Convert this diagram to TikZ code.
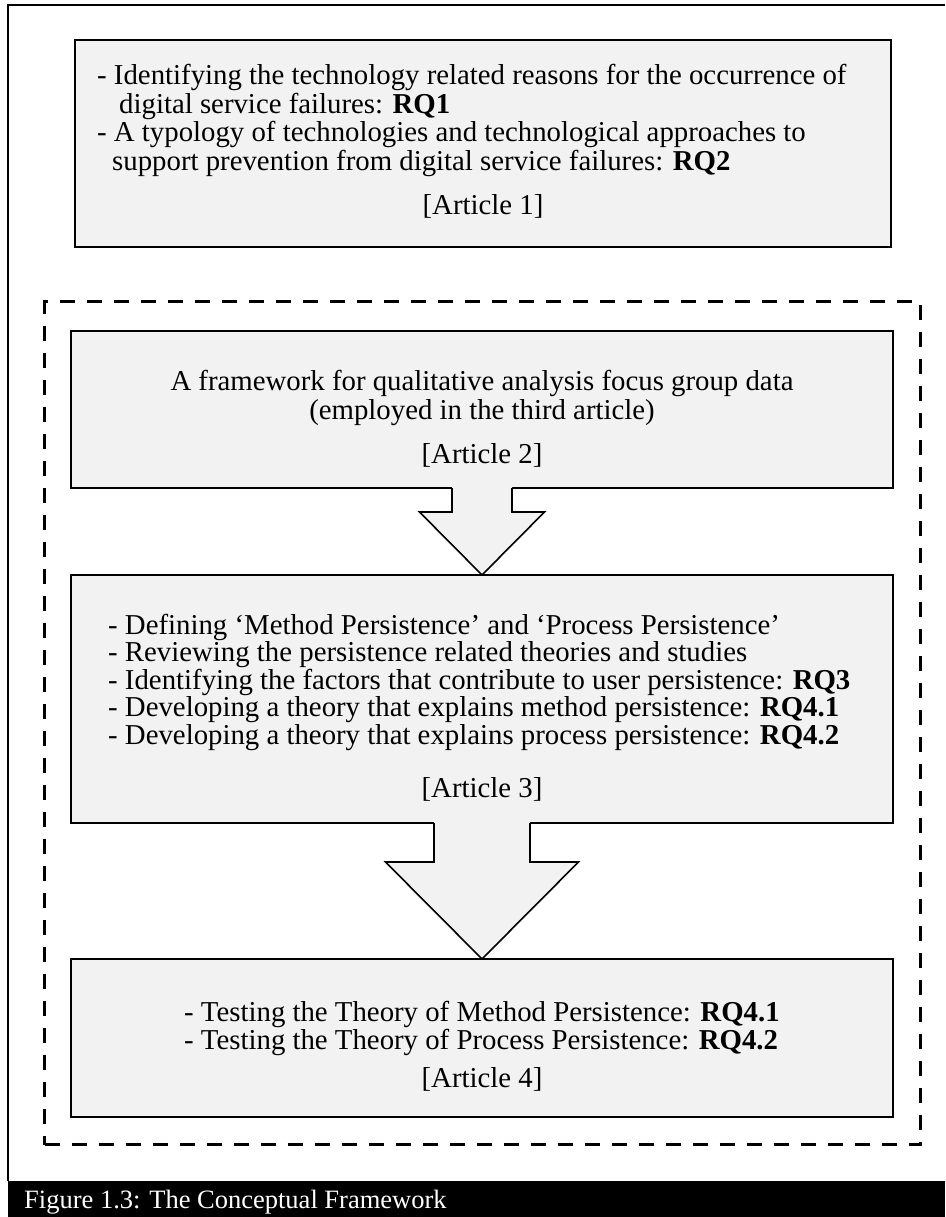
\documentclass[tikz,border=0pt]{standalone}
\usepackage{fontspec}
\setmainfont{Liberation Serif}
\usetikzlibrary{calc}
\definecolor{panelfill}{HTML}{F2F2F2}
\newcommand{\bodysize}{\fontsize{28.8}{28.5}\selectfont}
\newcommand{\capsize}{\fontsize{26.5}{28}\selectfont}
\begin{document}
\begin{tikzpicture}[x=1pt,y=-1pt,
  panel/.style={draw=black, line width=1.6pt, fill=panelfill, rectangle,
    inner sep=0pt, outer sep=0pt, anchor=north west},
  txt/.style={anchor=base west, inner sep=0pt, font=\bodysize},
  ctxt/.style={anchor=base, inner sep=0pt, font=\bodysize},
  blockarrow/.style={draw=black, line width=1.6pt, line join=miter, fill=panelfill},
  groupframe/.style={draw=black, line width=3pt, dash pattern=on 15pt off 12pt,
    rectangle, inner sep=0pt, anchor=north west}]
\useasboundingbox (0,0) rectangle (945,1217);
\fill[white] (0,0) rectangle (945,1217);

% outer frame and caption bar
\draw[line width=2pt] (8,1181) -- (8,5) -- (945,5);
\node[fill=black, inner sep=0pt, anchor=north west, minimum width=937pt, minimum height=36pt] (capbar) at (8,1181) {};
\node[anchor=base west, inner sep=0pt, text=white, font=\capsize] (captext) at (24,1208) {Figure 1.3: The Conceptual Framework};

% Article 1
\node[panel, minimum width=816pt, minimum height=207pt] (box1) at (75,40) {};
\node[txt] (b1l1) at (97,85) {- Identifying the technology related reasons for the occurrence of};
\node[txt] (b1l2) at (119,113.5) {digital service failures: \textbf{RQ1}};
\node[txt] (b1l3) at (97,142) {- A typology of technologies and technological approaches to};
\node[txt] (b1l4) at (112,170.5) {support prevention from digital service failures: \textbf{RQ2}};
\node[ctxt] (b1a) at (483,214) {[Article 1]};

% dashed group around articles 2-4
\node[groupframe, minimum width=876pt, minimum height=843pt] (group) at (43,300) {};

% Article 2
\node[panel, minimum width=822pt, minimum height=157pt] (box2) at (71,331) {};
\node[ctxt] (b2l1) at (482,390) {A framework for qualitative analysis focus group data};
\node[ctxt] (b2l2) at (482,419) {(employed in the third article)};
\node[ctxt] (b2a) at (482,463) {[Article 2]};

% Article 3
\node[panel, minimum width=822pt, minimum height=248pt] (box3) at (71,575) {};
\node[txt] (b3l1) at (108,634) {- Defining `Method Persistence' and `Process Persistence'};
\node[txt] (b3l2) at (108,661.5) {- Reviewing the persistence related theories and studies};
\node[txt] (b3l3) at (108,689) {- Identifying the factors that contribute to user persistence: \textbf{RQ3}};
\node[txt] (b3l4) at (108,716.5) {- Developing a theory that explains method persistence: \textbf{RQ4.1}};
\node[txt] (b3l5) at (108,744) {- Developing a theory that explains process persistence: \textbf{RQ4.2}};
\node[ctxt] (b3a) at (482,797) {[Article 3]};

% Article 4
\node[panel, minimum width=822pt, minimum height=158pt] (box4) at (71,959) {};
\node[txt] (b4l1) at (184,1021) {- Testing the Theory of Method Persistence: \textbf{RQ4.1}};
\node[txt] (b4l2) at (184,1049) {- Testing the Theory of Process Persistence: \textbf{RQ4.2}};
\node[ctxt] (b4a) at (482,1087) {[Article 4]};

% block arrow from Article 2 to Article 3
\fill[panelfill] ($(box2.south)+(-30,-1.2)$) -- ($(box2.south)+(-30,24)$) -- ($(box2.south)+(-62.5,24)$)
  -- (box3.north) -- ($(box2.south)+(62.5,24)$) -- ($(box2.south)+(30,24)$) -- ($(box2.south)+(30,-1.2)$) -- cycle;
\draw[blockarrow, fill=none] ($(box2.south)+(-30,0)$) -- ($(box2.south)+(-30,24)$) -- ($(box2.south)+(-62.5,24)$)
  -- (box3.north) -- ($(box2.south)+(62.5,24)$) -- ($(box2.south)+(30,24)$) -- ($(box2.south)+(30,0)$);

% block arrow from Article 3 to Article 4
\fill[panelfill] ($(box3.south)+(-48,-1.2)$) -- ($(box3.south)+(-48,39)$) -- ($(box3.south)+(-96.5,39)$)
  -- (box4.north) -- ($(box3.south)+(96.5,39)$) -- ($(box3.south)+(48,39)$) -- ($(box3.south)+(48,-1.2)$) -- cycle;
\draw[blockarrow, fill=none] ($(box3.south)+(-48,0)$) -- ($(box3.south)+(-48,39)$) -- ($(box3.south)+(-96.5,39)$)
  -- (box4.north) -- ($(box3.south)+(96.5,39)$) -- ($(box3.south)+(48,39)$) -- ($(box3.south)+(48,0)$);
\end{tikzpicture}
\end{document}
